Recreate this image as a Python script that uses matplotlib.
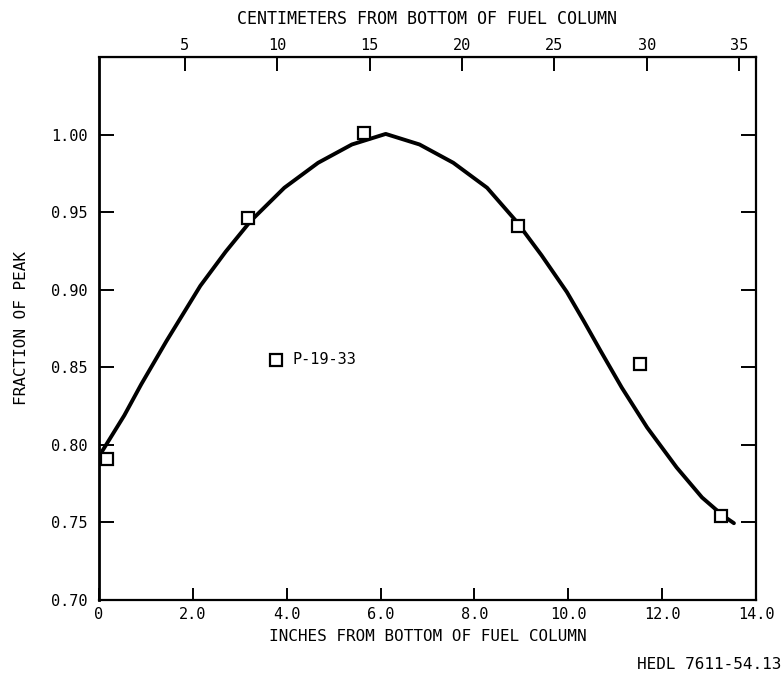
import matplotlib.pyplot as plt

# measured points, sample P-19-33
inches = [0.17, 3.17, 5.65, 8.92, 11.52, 13.26]
fraction = [0.791, 0.946, 1.001, 0.941, 0.852, 0.754]

# hand-faired curve through the measurements
curve_in = [0.07, 0.54, 0.90, 1.44, 2.16, 2.70, 3.23, 3.95, 4.67, 5.39, 6.11,
            6.83, 7.55, 8.27, 8.89, 9.43, 9.97, 10.33, 10.69, 11.14, 11.68,
            12.31, 12.85, 13.30, 13.53]
curve_frac = [0.796, 0.819, 0.839, 0.867, 0.9025, 0.9245, 0.9442, 0.9657, 0.9818,
              0.9936, 1.0004, 0.9936, 0.9818, 0.9657, 0.9442, 0.9222, 0.8985, 0.8798,
              0.8605, 0.8369, 0.8112, 0.7854, 0.7661, 0.7543, 0.7495]

xticks = [0, 2, 4, 6, 8, 10, 12, 14]
xticklabels = ['0', '2.0', '4.0', '6.0', '8.0', '10.0', '12.0', '14.0']
yticks = [0.70, 0.75, 0.80, 0.85, 0.90, 0.95, 1.00]
cm_ticks = [5, 10, 15, 20, 25, 30, 35]

plt.rcParams['font.family'] = ['DejaVu Sans Mono']

fig = plt.figure(figsize=(7.83, 6.75), dpi=100)
ax = fig.add_axes([0.1264, 0.1111, 0.8391, 0.8045])

ax.plot(curve_in, curve_frac, color='black', linewidth=2.8, solid_joinstyle='round',
        solid_capstyle='round', zorder=2)
ax.plot(inches, fraction, linestyle='none', marker='s', markersize=8.5,
        markerfacecolor='white', markeredgecolor='black', markeredgewidth=1.6, zorder=3)

# key
ax.plot([3.78], [0.855], linestyle='none', marker='s', markersize=8.5,
        markerfacecolor='white', markeredgecolor='black', markeredgewidth=1.6)
ax.text(4.13, 0.855, 'P-19-33', fontsize=11, va='center', ha='left')

ax.set_xlim(0, 14)
ax.set_ylim(0.70, 1.05)
ax.set_xticks(xticks)
ax.set_xticklabels(xticklabels)
ax.set_yticks(yticks)
ax.set_yticklabels(['%.2f' % v for v in yticks])

ax.tick_params(axis='x', direction='in', length=8.5, width=1.4, labelsize=11, pad=5)
ax.tick_params(axis='y', direction='in', length=11, width=1.4, labelsize=11, pad=8,
               right=True)
for s in ax.spines.values():
    s.set_linewidth(1.6)
ax.spines['left'].set_linewidth(2.0)

ax.set_xlabel('INCHES FROM BOTTOM OF FUEL COLUMN', fontsize=11.5, labelpad=5)
ax.set_ylabel('FRACTION OF PEAK', fontsize=11.5, labelpad=16)

# centimeter scale along the top
top = ax.secondary_xaxis('top', functions=(lambda x: (x + 0.14) * 2.54,
                                           lambda c: c / 2.54 - 0.14))
top.set_xticks(cm_ticks)
top.tick_params(direction='in', length=10, width=1.4, labelsize=11, pad=3)
top.set_xlabel('CENTIMETERS FROM BOTTOM OF FUEL COLUMN', fontsize=12, labelpad=10)

fig.text(0.998, 0.004, 'HEDL 7611-54.13', fontsize=11.5, ha='right', va='bottom')

fig.savefig('out.png', dpi=100)
